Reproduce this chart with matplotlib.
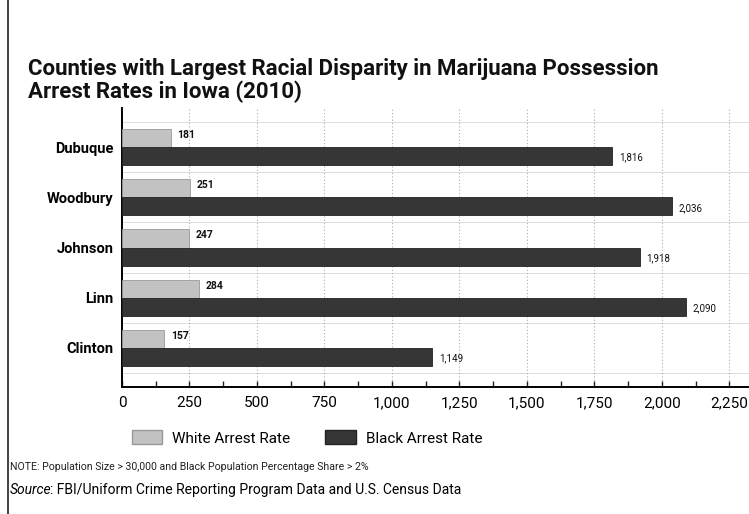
import matplotlib
matplotlib.use("Agg")
import matplotlib.pyplot as plt
import numpy as np
from matplotlib.patches import Rectangle
from matplotlib.lines import Line2D

counties = ["Dubuque", "Woodbury", "Johnson", "Linn", "Clinton"]
white_rate = [181, 251, 247, 284, 157]
black_rate = [1816, 2036, 1918, 2090, 1149]
x_ticks = [0, 250, 500, 750, 1000, 1250, 1500, 1750, 2000, 2250]

title = "Counties with Largest Racial Disparity in Marijuana Possession\nArrest Rates in Iowa (2010)"
note = "NOTE: Population Size > 30,000 and Black Population Percentage Share > 2%"
source = ": FBI/Uniform Crime Reporting Program Data and U.S. Census Data"

WHITE_C = "#c2c2c2"
BLACK_C = "#363636"

plt.rcParams['font.family'] = ['Roboto', 'DejaVu Sans']

W, H = 749, 514
fig = plt.figure(figsize=(W / 100, H / 100), dpi=100)

# axes box in pixel coords (left, top, right, bottom)
l, t, r, b = 122, 108, 749, 387
ax = fig.add_axes([l / W, 1 - b / H, (r - l) / W, (b - t) / H])

y = np.arange(len(counties))
h = 0.36
ax.barh(y - h / 2, white_rate, height=h, color=WHITE_C, edgecolor="#999999", linewidth=0.6, zorder=3)
ax.barh(y + h / 2, black_rate, height=h, color=BLACK_C, edgecolor="#222222", linewidth=0.6, zorder=3)

for i in range(len(counties)):
    ax.text(white_rate[i] + 25, y[i] - h / 2 - 0.06, f"{white_rate[i]:,}", fontsize=7.5,
            fontweight="bold", va="center", ha="left", color="#111111")
    ax.text(black_rate[i] + 25, y[i] + h / 2 + 0.03, f"{black_rate[i]:,}", fontsize=7,
            va="center", ha="left", color="#111111")

ax.set_xlim(0, 2323)
ax.set_ylim(len(counties) - 1 + 0.78, -0.78)
ax.set_yticks(y)
ax.set_yticklabels(counties, fontsize=10.5, fontweight="bold")
ax.set_xticks(x_ticks)
ax.set_xticklabels([f"{v:,}" for v in x_ticks], fontsize=11)
ax.set_xticks(np.arange(125, 2323, 250), minor=True)
ax.tick_params(axis="y", length=0, pad=6)
ax.tick_params(axis="x", which="both", direction="in", length=4, width=1, pad=6.5, color="#222222")

# dotted vertical grid
ax.grid(axis="x", which="major", linestyle=(0, (1, 2)), color="#aaaaaa", linewidth=0.8, zorder=0)
# faint separators between counties
for s in np.arange(-0.5, len(counties), 1.0):
    ax.axhline(s, color="#dddddd", linewidth=0.7, zorder=1)

for side in ["top", "right"]:
    ax.spines[side].set_visible(False)
ax.spines["left"].set_linewidth(1.4)
ax.spines["bottom"].set_linewidth(1.4)

# page border on the left
fig.add_artist(Line2D([8 / W, 8 / W], [0, 1], color="#222222", linewidth=1.2))

fig.text(28 / W, 1 - 58 / H, title, fontsize=16, fontweight="bold", va="top", ha="left",
         color="#111111", linespacing=1.02)

handles = [Rectangle((0, 0), 1, 1, facecolor=WHITE_C, edgecolor="#999999"),
           Rectangle((0, 0), 1, 1, facecolor=BLACK_C, edgecolor="#222222")]
fig.legend(handles, ["White Arrest Rate", "Black Arrest Rate"], loc="center",
           bbox_to_anchor=(307 / W, 1 - 438 / H), ncol=2, frameon=False, fontsize=11,
           handlelength=2.0, handleheight=1.0, columnspacing=2.3, handletextpad=0.65)

fig.text(10 / W, 1 - 467 / H, note, fontsize=7.6, va="center", ha="left", color="#222222")
src = fig.text(10 / W, 1 - 490 / H, "Source", fontsize=10, fontstyle="italic", va="center", ha="left")
fig.canvas.draw()
bb = src.get_window_extent()
fig.text((bb.x1 - 1.5) / W, 1 - 490 / H, source, fontsize=10, va="center", ha="left")

fig.savefig("out.png", dpi=100, facecolor="white")
